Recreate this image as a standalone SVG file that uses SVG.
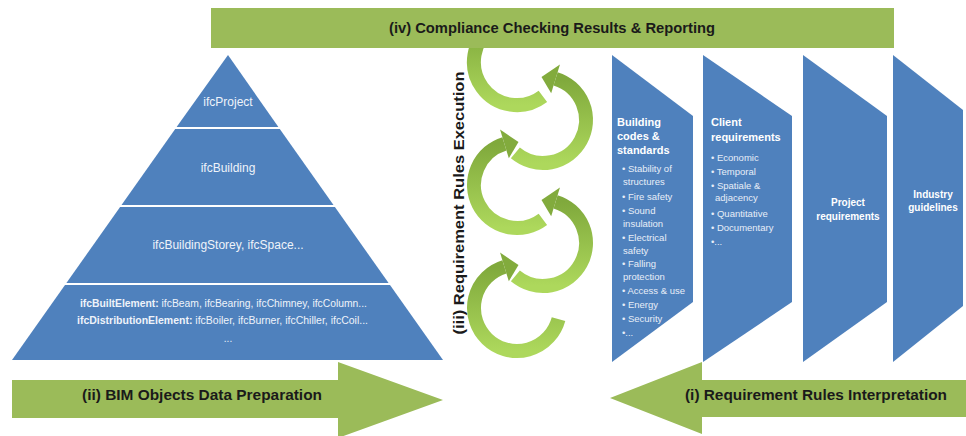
<svg xmlns="http://www.w3.org/2000/svg" width="966" height="436" viewBox="0 0 966 436">
<defs>
<linearGradient id="arcGrad" x1="0" y1="0" x2="0" y2="1">
<stop offset="0" stop-color="#80a93c"/>
<stop offset="1" stop-color="#add85c"/>
</linearGradient>
<style>
.blue{fill:#4f81bd;}
.green{fill:#9bbb59;}
.arc{fill:none;stroke:url(#arcGrad);stroke-width:14;}
.head{fill:#82ab3d;}
.lbl{font-family:"Liberation Sans",Arial,sans-serif;font-weight:bold;font-size:15px;fill:#1a1a1a;text-anchor:middle;}
.pyr{font-family:"Liberation Sans",Arial,sans-serif;font-size:12px;fill:#eef3fa;text-anchor:middle;}
.pyrs{font-family:"Liberation Sans",Arial,sans-serif;font-size:10px;fill:#eef3fa;text-anchor:middle;}
.hd{font-family:"Liberation Sans",Arial,sans-serif;font-weight:bold;font-size:11px;fill:#ffffff;}
.hdc{font-family:"Liberation Sans",Arial,sans-serif;font-weight:bold;font-size:10px;fill:#ffffff;text-anchor:middle;}
.bl{font-family:"Liberation Sans",Arial,sans-serif;font-size:9.5px;fill:#e8eef8;}
</style>
</defs>
<rect width="966" height="436" fill="#ffffff"/>

<g id="connectors">
<path class="arc" d="M542.88,96.34 A43,43 0 1 1 492.34,26.78"/>
<path class="arc" d="M515.36,152.94 A43,43 0 1 0 555.57,78.88"/>
<polygon class="head" points="551.19,93.22 559.96,64.54 541.50,77.03"/>
<path class="arc" d="M542.88,219.34 A43,43 0 1 1 504.43,143.88"/>
<polygon class="head" points="508.81,158.22 500.04,129.54 518.50,142.03"/>
<path class="arc" d="M515.36,275.94 A43,43 0 1 0 555.57,201.88"/>
<polygon class="head" points="551.19,216.22 559.96,187.54 541.50,200.03"/>
<path class="arc" d="M558.53,319.13 A43,43 0 1 1 504.43,266.88"/>
<polygon class="head" points="508.81,281.22 500.04,252.54 518.50,265.03"/>
</g>

<g id="compliance-banner">
<rect class="green" x="211" y="8" width="683" height="40"/>
<text class="lbl" x="552" y="33" textLength="326" lengthAdjust="spacingAndGlyphs">(iv) Compliance Checking Results &amp; Reporting</text>
</g>

<g id="pyramid">
<g id="ifcProject">
<polygon class="blue" points="228,55 278.4,127 176.6,127"/>
<text class="pyr" x="228" y="106">ifcProject</text>
</g>
<g id="ifcBuilding">
<polygon class="blue" points="175.2,129 279.8,129 333.5,205 121.5,205"/>
<text class="pyr" x="228" y="172" font-size="12.5">ifcBuilding</text>
</g>
<g id="ifcBuildingStorey">
<polygon class="blue" points="120.1,207 334.9,207 388.6,283 66.4,283"/>
<text class="pyr" x="228" y="249">ifcBuildingStorey, ifcSpace...</text>
</g>
<g id="ifcElements">
<polygon class="blue" points="65,285 390,285 443,360 12,360"/>
<text class="pyrs" x="223.5" y="306.5" textLength="287" lengthAdjust="spacingAndGlyphs"><tspan font-weight="bold">ifcBuiltElement:</tspan> ifcBeam, ifcBearing, ifcChimney, ifcColumn...</text>
<text class="pyrs" x="222.5" y="323.5" textLength="291" lengthAdjust="spacingAndGlyphs"><tspan font-weight="bold">ifcDistributionElement:</tspan> ifcBoiler, ifcBurner, ifcChiller, ifcCoil...</text>
<text class="pyrs" x="228" y="342">...</text>
</g>
</g>

<g id="bim-preparation-arrow">
<polygon class="green" points="12,380 338,380 338,362 443,400 338,438 338,418 12,418"/>
<text class="lbl" x="202" y="400" textLength="240" lengthAdjust="spacingAndGlyphs">(ii) BIM Objects Data Preparation</text>
</g>

<g id="interpretation-arrow">
<polygon class="green" points="966,380 702,380 702,362 610,398 702,434 702,417 966,417"/>
<text class="lbl" x="816" y="400" textLength="262" lengthAdjust="spacingAndGlyphs">(i) Requirement Rules Interpretation</text>
</g>

<g id="execution-label">
<text class="lbl" font-size="17" transform="translate(464,203) rotate(-90)" x="0" y="0" textLength="263" lengthAdjust="spacingAndGlyphs">(iii) Requirement Rules Execution</text>
</g>

<g id="building-codes">
<polygon class="blue" points="612,55 693,116 693,302 612,362"/>
<text class="hd" x="617" y="126">Building</text>
<text class="hd" x="617" y="140">codes &amp;</text>
<text class="hd" x="617" y="154">standards</text>
<text class="bl" x="622" y="171.5">• Stability of</text>
<text class="bl" x="623" y="185">structures</text>
<text class="bl" x="622" y="200">• Fire safety</text>
<text class="bl" x="622" y="214">• Sound</text>
<text class="bl" x="623" y="226.5">insulation</text>
<text class="bl" x="622" y="241">• Electrical</text>
<text class="bl" x="623" y="253.5">safety</text>
<text class="bl" x="622" y="266.5">• Falling</text>
<text class="bl" x="623" y="280">protection</text>
<text class="bl" x="622" y="293.5">• Access &amp; use</text>
<text class="bl" x="622" y="308">• Energy</text>
<text class="bl" x="622" y="321.5">• Security</text>
<text class="bl" x="622" y="336">•...</text>
</g>

<g id="client-requirements">
<polygon class="blue" points="703,55 792,116 792,302 703,362"/>
<text class="hd" x="711" y="126">Client</text>
<text class="hd" x="711" y="141">requirements</text>
<text class="bl" x="711" y="160.5">• Economic</text>
<text class="bl" x="711" y="174.5">• Temporal</text>
<text class="bl" x="711" y="188.5">• Spatiale &amp;</text>
<text class="bl" x="715" y="200.5">adjacency</text>
<text class="bl" x="711" y="216.5">• Quantitative</text>
<text class="bl" x="711" y="230.5">• Documentary</text>
<text class="bl" x="711" y="244.5">•...</text>
</g>

<g id="project-requirements">
<polygon class="blue" points="803,55 887,116 887,302 803,362"/>
<text class="hdc" x="848" y="205.5">Project</text>
<text class="hdc" x="848" y="219.5">requirements</text>
</g>

<g id="industry-guidelines">
<polygon class="blue" points="893,55 963,110 963,306 893,362"/>
<text class="hdc" x="933" y="197.5">Industry</text>
<text class="hdc" x="933" y="210.5">guidelines</text>
</g>
</svg>
